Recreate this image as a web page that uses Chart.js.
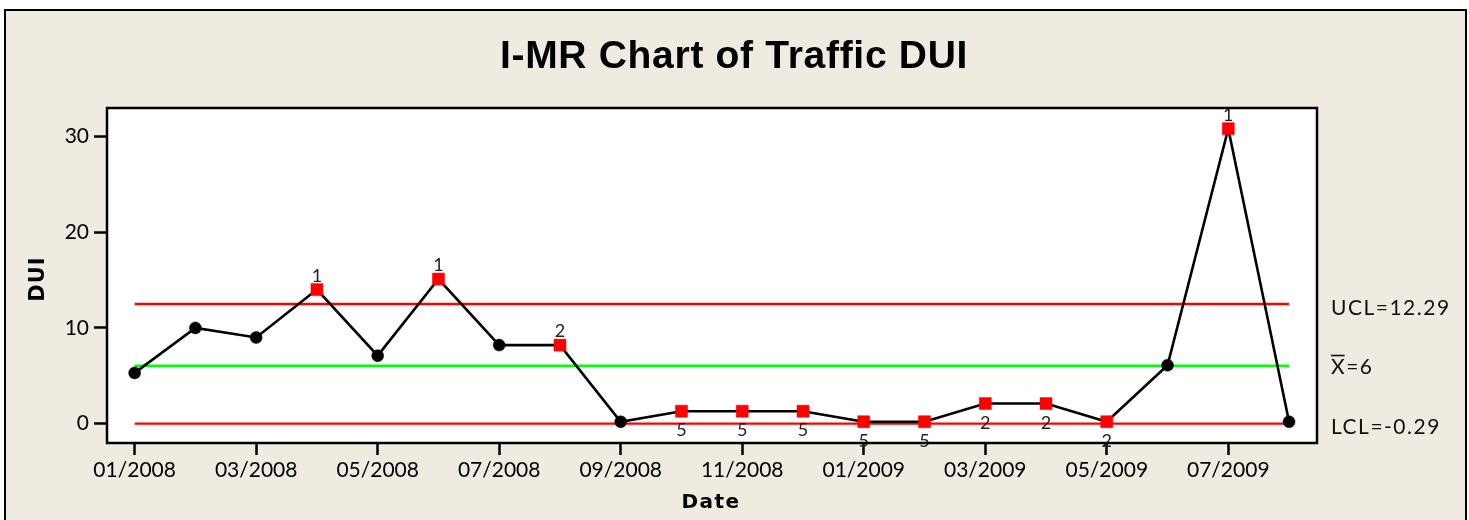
<!DOCTYPE html>
<html>
<head>
<meta charset="utf-8">
<script src="https://cdn.jsdelivr.net/npm/chart.js@4"></script>
<style>
html,body{margin:0;padding:0;background:#fff;}
canvas{display:block;}
</style>
</head>
<body>
<canvas id="c" width="1469" height="520"></canvas>
<script>
// ---- data ----
const months = ['01/2008','02/2008','03/2008','04/2008','05/2008','06/2008','07/2008','08/2008','09/2008','10/2008','11/2008','12/2008','01/2009','02/2009','03/2009','04/2009','05/2009','06/2009','07/2009','08/2009'];
const duiValues = [5.3, 10.0, 9.0, 14.0, 7.1, 15.1, 8.2, 8.2, 0.2, 1.3, 1.3, 1.3, 0.2, 0.2, 2.1, 2.1, 0.2, 6.1, 30.8, 0.2];
const testFlags = ['', '', '', '1', '', '1', '', '2', '', '5', '5', '5', '5', '5', '2', '2', '2', '', '1', ''];
const flagSide  = ['', '', '', 'above', '', 'above', '', 'above', '', 'below', 'below', 'below', 'below', 'below', 'below', 'below', 'below', '', 'above', ''];
const yTicks = [0, 10, 20, 30];
const xTickIdx = [0, 2, 4, 6, 8, 10, 12, 14, 16, 18];
const uclLine = 12.5, meanLine = 6.05, lclLine = 0.0;
const limitLabels = ['UCL=12.29', 'X=6', 'LCL=-0.29'];

const BEIGE = '#EFEBE0';
const pts = duiValues.map((v, i) => ({x: i, y: v}));
const flagged = testFlags.map(f => f !== '');
const hline = v => [{x: 0, y: v}, {x: months.length - 1, y: v}];

const framePlugin = {
  id: 'frame',
  beforeDraw(chart) {
    const ctx = chart.ctx, a = chart.chartArea;
    ctx.save();
    ctx.fillStyle = '#ffffff';
    ctx.fillRect(0, 0, chart.width, chart.height);
    ctx.fillStyle = BEIGE;
    ctx.fillRect(5, 10, 1461, 520);
    ctx.strokeStyle = '#000';
    ctx.lineWidth = 2;
    ctx.strokeRect(5, 10, 1461, 530);
    ctx.fillStyle = '#ffffff';
    ctx.fillRect(a.left, a.top, a.right - a.left, a.bottom - a.top);
    // title
    ctx.fillStyle = '#000';
    ctx.font = 'bold 39px "Liberation Sans", Arial, sans-serif';
    ctx.textAlign = 'center';
    ctx.textBaseline = 'alphabetic';
    ctx.letterSpacing = '0.7px';
    ctx.fillText('I-MR Chart of Traffic DUI', 734, 68);
    // axis titles
    ctx.letterSpacing = '1.5px';
    ctx.font = 'bold 20px "DejaVu Sans", sans-serif';
    ctx.fillText('Date', 711, 508);
    ctx.save();
    ctx.translate(44, 279);
    ctx.rotate(-Math.PI / 2);
    ctx.font = 'bold 21px "DejaVu Sans", sans-serif';
    ctx.letterSpacing = '1px';
    ctx.fillText('DUI', 0, 0);
    ctx.restore();
    ctx.restore();
  },
  afterDatasetsDraw(chart) {
    const ctx = chart.ctx, a = chart.chartArea;
    const meta = chart.getDatasetMeta(0);
    const ys = chart.scales.y;
    ctx.save();
    // flag labels
    ctx.fillStyle = '#222';
    ctx.font = '18px Lato, sans-serif';
    ctx.textAlign = 'center';
    ctx.textBaseline = 'alphabetic';
    testFlags.forEach((f, i) => {
      if (!f) return;
      const p = meta.data[i];
      if (flagSide[i] === 'above') ctx.fillText(f, p.x, p.y - 8);
      else ctx.fillText(f, p.x, p.y + 25);
    });
    // plot frame
    ctx.strokeStyle = '#000';
    ctx.lineWidth = 2.5;
    ctx.strokeRect(a.left, a.top, a.right - a.left, a.bottom - a.top);
    // limit labels
    ctx.fillStyle = '#111';
    ctx.font = '21px Lato, sans-serif';
    ctx.textAlign = 'left';
    ctx.letterSpacing = '1.5px';
    const lx = a.right + 14;
    ctx.fillText(limitLabels[0], lx, ys.getPixelForValue(uclLine) + 11);
    const my = ys.getPixelForValue(meanLine) + 8;
    ctx.fillText(limitLabels[1], lx, my);
    const xw = ctx.measureText('X').width - 1.5;
    ctx.fillRect(lx, my - 19, xw, 1.6);
    ctx.fillText(limitLabels[2], lx, ys.getPixelForValue(lclLine) + 10);
    ctx.restore();
  }
};

new Chart(document.getElementById('c'), {
  type: 'line',
  data: {
    datasets: [
      {
        label: 'DUI',
        data: pts,
        borderColor: '#000',
        borderWidth: 2.6,
        tension: 0,
        pointStyle: flagged.map(f => f ? 'rect' : 'circle'),
        pointRadius: flagged.map(f => f ? 8.5 : 6),
        pointBackgroundColor: flagged.map(f => f ? '#FF0000' : '#000'),
        pointBorderColor: flagged.map(f => f ? '#FF0000' : '#000'),
        pointBorderWidth: 0.5,
        order: 0
      },
      { label: 'UCL', data: hline(uclLine), borderColor: '#FF0000', borderWidth: 2.4, pointRadius: 0, order: 2 },
      { label: 'Mean', data: hline(meanLine), borderColor: '#00FF00', borderWidth: 2.4, pointRadius: 0, order: 2 },
      { label: 'LCL', data: hline(lclLine), borderColor: '#FF0000', borderWidth: 2.4, pointRadius: 0, order: 2 }
    ]
  },
  options: {
    responsive: false,
    animation: false,
    devicePixelRatio: 1,
    layout: { padding: { top: 108, right: 152, left: 0, bottom: 0 } },
    plugins: { legend: { display: false }, tooltip: { enabled: false }, title: { display: false } },
    scales: {
      x: {
        type: 'linear',
        min: -0.455,
        max: 19.46,
        afterFit(s) { s.height = 77; },
        afterBuildTicks(s) { s.ticks = xTickIdx.map(v => ({value: v})); },
        border: { display: false },
        grid: { drawOnChartArea: false, drawTicks: true, tickLength: 12, tickColor: '#000', tickWidth: 2.5 },
        ticks: {
          color: '#000',
          font: { family: 'Lato', size: 21 },
          padding: 3,
          maxRotation: 0,
          autoSkip: false,
          callback: v => months[v]
        }
      },
      y: {
        type: 'linear',
        min: -2.02,
        max: 32.96,
        afterFit(s) { s.width = 107; },
        afterBuildTicks(s) { s.ticks = yTicks.map(v => ({value: v})); },
        border: { display: false },
        grid: { drawOnChartArea: false, drawTicks: true, tickLength: 13, tickColor: '#000', tickWidth: 2.5 },
        ticks: {
          color: '#000',
          font: { family: 'Lato', size: 21 },
          padding: 5
        }
      }
    }
  },
  plugins: [framePlugin]
});
</script>
</body>
</html>
